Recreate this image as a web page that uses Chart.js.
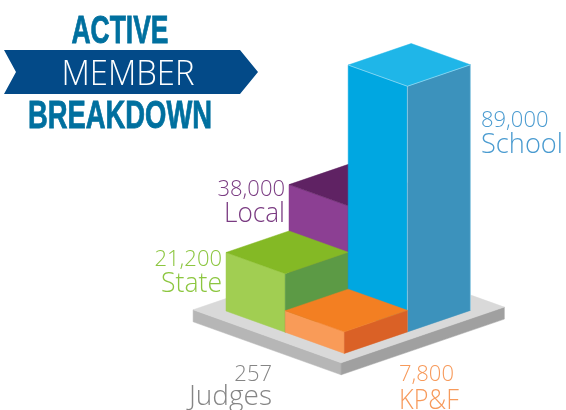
<!DOCTYPE html>
<html>
<head>
<meta charset="utf-8">
<title>Active Member Breakdown</title>
<script src="https://cdn.jsdelivr.net/npm/chart.js@4"></script>
<style>
    html, body { margin: 0; padding: 0; background: #fff; }
    canvas { display: block; }
</style>
</head>
<body>
<canvas id="chart" width="566" height="410"></canvas>
<script>
const categories = ['Judges', 'Local', 'State', 'School', 'KP&F'];
const members = [257, 38000, 21200, 89000, 7800];
const memberLabels = ['257', '38,000', '21,200', '89,000', '7,800'];

// where each block stands on the floor, in floor cells
const footprints = {
    'Judges': {p0: -0.3, p1: 2.2, q0: -0.24, q1: 2.35, sunk: true},
    'Local': {p0: 0, p1: 1, q0: 1, q1: 2},
    'State': {p0: 0, p1: 1, q0: 0, q1: 1},
    'School': {p0: 1, p1: 2, q0: 1, q1: 2},
    'KP&F': {p0: 1, p1: 2, q0: 0, q1: 1}
};

const faces = {
    'Judges': {left: '#b6b6b6', right: '#a0a0a0', top: '#d9d9d9'},
    'Local': {left: '#8c3f93', right: '#6d2a73', top: '#5f2263'},
    'State': {left: '#a1ce52', right: '#5c9a45', top: '#84b925'},
    'School': {left: '#00a7e1', right: '#3c92bc', top: '#1fb6e8', edge: 'rgba(190,232,248,0.7)'},
    'KP&F': {left: '#f99b58', right: '#da6126', top: '#f37f22'}
};

const labelStyles = {
    'Judges': {x: 272, y: 381, gap: 24, width: 84, align: 'right', color: '#858585'},
    'Local': {x: 285, y: 196, gap: 26, width: 61, align: 'right', color: '#7a3b82'},
    'State': {x: 222, y: 266, gap: 26, width: 61, align: 'right', color: '#8cc63f'},
    'School': {x: 481, y: 127, gap: 26, width: 82, align: 'left', color: '#4a9bd0'},
    'KP&F': {x: 399, y: 381, gap: 28, width: 60, align: 'left', color: '#f79a5b'}
};

const floorOrigin = {x: 226, y: 311};
const floorU = {x: 59.2, y: 21.2};
const floorV = {x: 63, y: -21.5};

function floorPoint(p, q, lift) {
    return {
        x: floorOrigin.x + p * floorU.x + q * floorV.x,
        y: floorOrigin.y + p * floorU.y + q * floorV.y - lift
    };
}

function tracePath(ctx, points) {
    ctx.beginPath();
    points.forEach((pt, i) => i ? ctx.lineTo(pt.x, pt.y) : ctx.moveTo(pt.x, pt.y));
}

function fillFace(ctx, points, color) {
    ctx.fillStyle = color;
    ctx.strokeStyle = color;
    ctx.lineWidth = 0.5;
    tracePath(ctx, points);
    ctx.closePath();
    ctx.fill();
    ctx.stroke();
}

function drawBlock(ctx, f, height, colors) {
    const low = f.sunk ? -height : 0;
    const high = f.sunk ? 0 : height;
    fillFace(ctx, [floorPoint(f.p0, f.q0, low), floorPoint(f.p1, f.q0, low), floorPoint(f.p1, f.q0, high), floorPoint(f.p0, f.q0, high)], colors.left);
    fillFace(ctx, [floorPoint(f.p1, f.q0, low), floorPoint(f.p1, f.q1, low), floorPoint(f.p1, f.q1, high), floorPoint(f.p1, f.q0, high)], colors.right);
    fillFace(ctx, [floorPoint(f.p0, f.q0, high), floorPoint(f.p1, f.q0, high), floorPoint(f.p1, f.q1, high), floorPoint(f.p0, f.q1, high)], colors.top);
    if (colors.edge) {
        ctx.strokeStyle = colors.edge;
        ctx.lineWidth = 0.8;
        tracePath(ctx, [floorPoint(f.p0, f.q0, high), floorPoint(f.p1, f.q0, high), floorPoint(f.p1, f.q1, high), floorPoint(f.p1, f.q1, low)]);
        ctx.stroke();
        tracePath(ctx, [floorPoint(f.p1, f.q0, high), floorPoint(f.p1, f.q0, low)]);
        ctx.stroke();
    }
}

function drawTitle(ctx) {
    ctx.fillStyle = '#034a88';
    ctx.beginPath();
    ctx.moveTo(4, 50);
    ctx.lineTo(240, 50);
    ctx.lineTo(258, 72);
    ctx.lineTo(240, 94);
    ctx.lineTo(4, 94);
    ctx.lineTo(16, 72);
    ctx.closePath();
    ctx.fill();

    ctx.textAlign = 'center';
    ctx.textBaseline = 'alphabetic';
    ctx.fillStyle = '#00709f';
    ctx.strokeStyle = '#00709f';
    ctx.lineWidth = 0.8;
    ctx.font = 'bold 39px "Liberation Sans Narrow", "Liberation Sans"';
    ctx.fillText('ACTIVE', 120, 43, 97);
    ctx.strokeText('ACTIVE', 120, 43, 97);
    ctx.fillText('BREAKDOWN', 120, 128, 184);
    ctx.strokeText('BREAKDOWN', 120, 128, 184);
    ctx.fillStyle = '#ffffff';
    ctx.font = '300 34px "Open Sans"';
    ctx.fillText('MEMBER', 128, 85, 133);
}

function drawLabels(ctx) {
    ctx.textBaseline = 'alphabetic';
    categories.forEach((name, i) => {
        const s = labelStyles[name];
        ctx.textAlign = s.align;
        ctx.fillStyle = s.color;
        ctx.font = '300 22px "Open Sans"';
        ctx.fillText(memberLabels[i], s.x, s.y);
        ctx.font = '300 28px "Open Sans"';
        ctx.fillText(name, s.x, s.y + s.gap, s.width);
    });
}

const isoBlocks = {
    id: 'isoBlocks',
    afterDatasetsDraw(chart) {
        const ctx = chart.ctx;
        const bars = chart.getDatasetMeta(0).data;
        ctx.save();
        drawTitle(ctx);
        categories.forEach((name, i) => {
            drawBlock(ctx, footprints[name], bars[i].base - bars[i].y, faces[name]);
        });
        drawLabels(ctx);
        ctx.restore();
    }
};

const ctx = document.getElementById('chart').getContext('2d');
new Chart(ctx, {
    type: 'bar',
    data: {
        labels: categories,
        datasets: [{
            label: 'Active members',
            data: members,
            backgroundColor: 'transparent',
            minBarLength: 12
        }]
    },
    options: {
        responsive: false,
        animation: false,
        layout: {padding: {top: 60, bottom: 74}},
        plugins: {legend: {display: false}, tooltip: {enabled: false}},
        scales: {
            x: {display: false},
            y: {display: false, min: 0, max: 100000}
        }
    },
    plugins: [isoBlocks]
});
</script>
</body>
</html>
